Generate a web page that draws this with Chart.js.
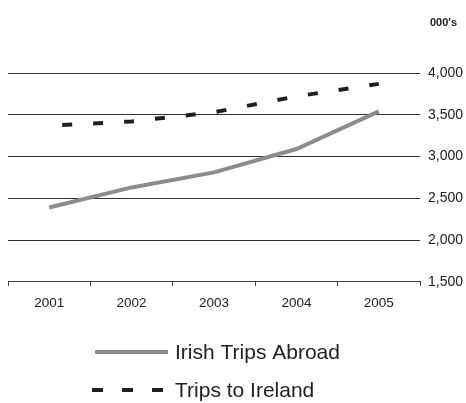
<!DOCTYPE html>
<html>
<head>
<meta charset="utf-8">
<script src="https://cdn.jsdelivr.net/npm/chart.js@4"></script>
<style>
  html, body { margin: 0; padding: 0; background: #fff; }
  #wrap { width: 466px; height: 403px; position: relative; }
</style>
</head>
<body>
<div id="wrap"><canvas id="grafico"></canvas></div>
<script>
// Dados do gráfico
const anos = ['2001', '2002', '2003', '2004', '2005'];
const viagensAoExterior = [2390, 2630, 2810, 3090, 3540];
const viagensParaIrlanda = [3370, 3420, 3530, 3720, 3870];
const rotulosY = [1500, 2000, 2500, 3000, 3500, 4000];
const nomesSeries = ['Irish Trips Abroad', 'Trips to Ireland'];
const unidade = "000's";

// Plugin para o texto da unidade e a legenda empilhada
const legendaPropria = {
  id: 'legendaPropria',
  afterDraw(chart) {
    const ctx = chart.ctx;
    ctx.save();
    ctx.fillStyle = '#222';
    ctx.font = 'bold 11px "Liberation Sans", Arial, sans-serif';
    ctx.textBaseline = 'middle';
    ctx.fillText(unidade, 430, 23);

    const linhasY = [352, 390];
    chart.data.datasets.forEach((ds, i) => {
      const y = linhasY[i];
      ctx.beginPath();
      ctx.strokeStyle = ds.borderColor;
      ctx.lineWidth = ds.borderWidth;
      if (ds.borderDash) {
        ctx.setLineDash([11, 19]);
        ctx.lineDashOffset = 0;
        ctx.moveTo(92, y);
        ctx.lineTo(164, y);
      } else {
        ctx.setLineDash([]);
        ctx.moveTo(95, y);
        ctx.lineTo(168, y);
      }
      ctx.stroke();
      ctx.setLineDash([]);
      ctx.fillStyle = '#222';
      ctx.font = '21px "Liberation Sans", Arial, sans-serif';
      ctx.fillText(ds.label, 175, y + 1);
    });
    ctx.restore();
  }
};

new Chart(document.getElementById('grafico'), {
  type: 'line',
  data: {
    labels: anos,
    datasets: [{
      label: nomesSeries[0],
      data: viagensAoExterior,
      borderColor: '#8c8c8c',
      borderWidth: 4,
      pointRadius: 0,
      tension: 0,
      borderCapStyle: 'butt'
    }, {
      label: nomesSeries[1],
      data: viagensParaIrlanda,
      borderColor: '#231f20',
      borderWidth: 4,
      borderDash: [10, 21],
      borderDashOffset: 18,
      pointRadius: 0,
      tension: 0
    }]
  },
  options: {
    responsive: true,
    maintainAspectRatio: false,
    animation: false,
    layout: { padding: { left: 8, right: 2, top: 73, bottom: 83 } },
    plugins: {
      legend: { display: false },
      tooltip: { enabled: false }
    },
    scales: {
      x: {
        offset: true,
        grid: {
          offset: true,
          drawOnChartArea: false,
          tickLength: 4,
          color: '#444'
        },
        border: { display: true, color: '#444' },
        ticks: {
          color: '#222',
          padding: 9,
          font: { family: '"Liberation Sans", Arial, sans-serif', size: 13.5 }
        }
      },
      y: {
        position: 'right',
        min: 1500,
        max: 4000,
        afterBuildTicks: (escala) => { escala.ticks = rotulosY.map(v => ({ value: v })); },
        afterFit: (escala) => { escala.width = 44; },
        grid: { color: '#333', drawTicks: false },
        border: { display: false },
        ticks: {
          color: '#222',
          padding: 8,
          font: { family: '"Liberation Sans", Arial, sans-serif', size: 14 },
          callback: (v) => v.toLocaleString('en-US')
        }
      }
    }
  },
  plugins: [legendaPropria]
});
</script>
</body>
</html>
